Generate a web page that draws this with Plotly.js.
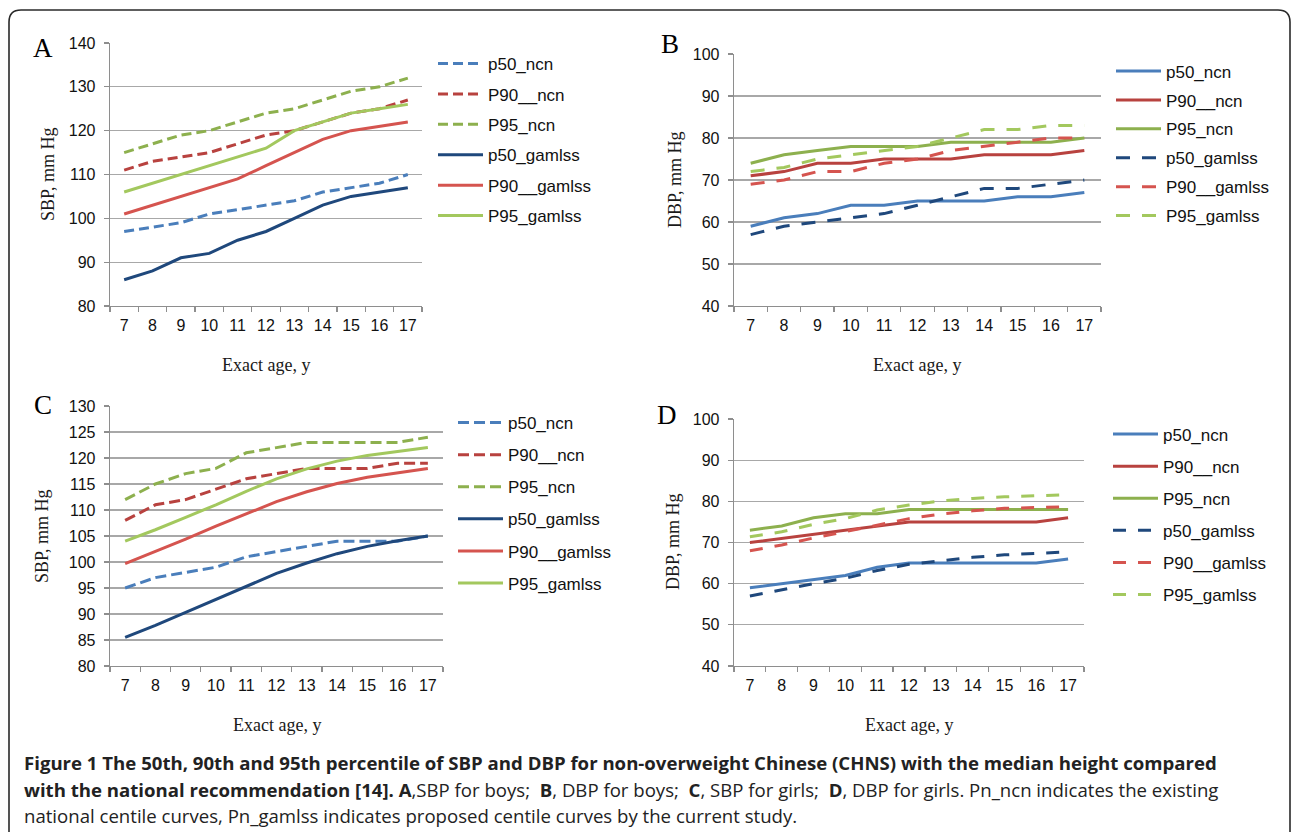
<!DOCTYPE html>
<html>
<head>
<meta charset="utf-8">
<script src="https://cdn.plot.ly/plotly-3.0.1.min.js"></script>
<style>
  html, body { margin: 0; padding: 0; background: #ffffff; }
  #chart { width: 1296px; height: 832px; }
</style>
</head>
<body>
<div id="chart"></div>
<script>
// ---------------- data ----------------
const ages = ['7','8','9','10','11','12','13','14','15','16','17'];

const seriesNames = ['p50_ncn', 'P90__ncn', 'P95_ncn', 'p50_gamlss', 'P90__gamlss', 'P95_gamlss'];

// Panel A: SBP for boys
const A_p50_ncn    = [97, 98, 99, 101, 102, 103, 104, 106, 107, 108, 110];
const A_p90_ncn    = [111, 113, 114, 115, 117, 119, 120, 122, 124, 125, 127];
const A_p95_ncn    = [115, 117, 119, 120, 122, 124, 125, 127, 129, 130, 132];
const A_p50_gamlss = [86, 88, 91, 92, 95, 97, 100, 103, 105, 106, 107];
const A_p90_gamlss = [101, 103, 105, 107, 109, 112, 115, 118, 120, 121, 122];
const A_p95_gamlss = [106, 108, 110, 112, 114, 116, 120, 122, 124, 125, 126];

// Panel B: DBP for boys
const B_p50_ncn    = [59, 61, 62, 64, 64, 65, 65, 65, 66, 66, 67];
const B_p90_ncn    = [71, 72, 74, 74, 75, 75, 75, 76, 76, 76, 77];
const B_p95_ncn    = [74, 76, 77, 78, 78, 78, 79, 79, 79, 79, 80];
const B_p50_gamlss = [57, 59, 60, 61, 62, 64, 66, 68, 68, 69, 70];
const B_p90_gamlss = [69, 70, 72, 72, 74, 75, 77, 78, 79, 80, 80];
const B_p95_gamlss = [72, 73, 75, 76, 77, 78, 80, 82, 82, 83, 83];

// Panel C: SBP for girls
const C_p50_ncn    = [95, 97, 98, 99, 101, 102, 103, 104, 104, 104, 105];
const C_p90_ncn    = [108, 111, 112, 114, 116, 117, 118, 118, 118, 119, 119];
const C_p95_ncn    = [112, 115, 117, 118, 121, 122, 123, 123, 123, 123, 124];
const C_p50_gamlss = [85.5, 87.8, 90.3, 92.8, 95.2, 97.8, 99.8, 101.6, 103.0, 104.1, 105];
const C_p90_gamlss = [99.7, 102, 104.4, 106.9, 109.3, 111.6, 113.5, 115.1, 116.3, 117.2, 118];
const C_p95_gamlss = [104, 106.2, 108.6, 111, 113.6, 116, 117.9, 119.4, 120.5, 121.2, 122];

// Panel D: DBP for girls
const D_p50_ncn    = [59, 60, 61, 62, 64, 65, 65, 65, 65, 65, 66];
const D_p90_ncn    = [70, 71, 72, 73, 74, 75, 75, 75, 75, 75, 76];
const D_p95_ncn    = [73, 74, 76, 77, 77, 78, 78, 78, 78, 78, 78];
const D_p50_gamlss = [57, 58.5, 60, 61.3, 63.2, 64.7, 65.5, 66.4, 67, 67.4, 67.7];
const D_p90_gamlss = [68, 69.4, 71.1, 72.6, 74.2, 75.8, 76.9, 77.7, 78.3, 78.5, 78.7];
const D_p95_gamlss = [71.4, 72.6, 74.4, 75.8, 77.9, 79.1, 80.1, 80.7, 81.1, 81.4, 81.6];

const panelLetters = ['A', 'B', 'C', 'D'];
const yTitles = ['SBP, mm Hg', 'DBP, mm Hg', 'SBP, mm Hg', 'DBP, mm Hg'];
const xTitle = 'Exact age, y';
const captionLines = [
  '<b>Figure 1 The 50th, 90th and 95th percentile of SBP and DBP for non-overweight Chinese (CHNS) with the median height compared</b>',
  '<b>with the national recommendation [14]. A</b>,SBP for boys;  <b>B</b>, DBP for boys;  <b>C</b>, SBP for girls;  <b>D</b>, DBP for girls. Pn_ncn indicates the existing',
  'national centile curves, Pn_gamlss indicates proposed centile curves by the current study.'
];

// ---------------- styling ----------------
const W = 1296, H = 832;
const px = v => v / W;
const py = v => 1 - v / H;

const colNcn    = ['#4a7ebb', '#b8423f', '#8db04e'];
const colGamlss = ['#1f487c', '#d5544f', '#a3c85e'];

const sansFont = 'Liberation Sans, Arial, Helvetica, sans-serif';
const serifFont = 'Liberation Serif, Times New Roman, serif';
const gridCol = '#a8a8a8';
const axisCol = '#8e8e8e';

// panel geometry (pixels): plot area
const panels = [
  {x0: 110, x1: 422, y0: 43,  y1: 306, yr: [80, 140], dt: 10, ncnDash: true,  dash: '10px,5px',
   data: [A_p50_ncn, A_p90_ncn, A_p95_ncn, A_p50_gamlss, A_p90_gamlss, A_p95_gamlss],
   leg: {x: 433, y: 46, gap: 5.3}, letter: [43, 48], ytitle: [48, 174]},
  {x0: 734, x1: 1101, y0: 54, y1: 306, yr: [40, 100], dt: 10, ncnDash: false, dash: '14px,12px',
   data: [B_p50_ncn, B_p90_ncn, B_p95_ncn, B_p50_gamlss, B_p90_gamlss, B_p95_gamlss],
   leg: {x: 1111, y: 53.5, gap: 3.8}, letter: [670, 44], ytitle: [675, 180]},
  {x0: 110, x1: 443, y0: 406, y1: 666, yr: [80, 130], dt: 5, ncnDash: true, dash: '11px,5px',
   data: [C_p50_ncn, C_p90_ncn, C_p95_ncn, C_p50_gamlss, C_p90_gamlss, C_p95_gamlss],
   leg: {x: 453, y: 405, gap: 7}, letter: [43, 405], ytitle: [42, 536]},
  {x0: 734, x1: 1084, y0: 419, y1: 666, yr: [40, 100], dt: 10, ncnDash: false, dash: '13px,12px',
   data: [D_p50_ncn, D_p90_ncn, D_p95_ncn, D_p50_gamlss, D_p90_gamlss, D_p95_gamlss],
   leg: {x: 1108, y: 416.5, gap: 7}, letter: [667, 415], ytitle: [673, 542]}
];

const traces = [];
const layout = {
  width: W, height: H,
  margin: {l: 0, r: 0, t: 0, b: 0},
  paper_bgcolor: '#ffffff',
  plot_bgcolor: 'rgba(0,0,0,0)',
  font: {family: sansFont, size: 16, color: '#1a1a1a'},
  annotations: [],
  shapes: []
};

panels.forEach((p, i) => {
  const k = i === 0 ? '' : String(i + 1);
  const xa = 'x' + k, ya = 'y' + k;
  const legName = i === 0 ? 'legend' : 'legend' + (i + 1);

  p.data.forEach((vals, j) => {
    const isNcn = j < 3;
    const dashed = isNcn ? p.ncnDash : !p.ncnDash;
    traces.push({
      type: 'scatter', mode: 'lines',
      x: ages, y: vals,
      name: seriesNames[j],
      xaxis: xa, yaxis: ya,
      legend: legName,
      legendgroup: 'g' + i + '_' + j,
      line: {color: isNcn ? colNcn[j] : colGamlss[j - 3], width: 3, dash: dashed ? p.dash : 'solid'},
      hoverinfo: 'skip'
    });
  });

  layout['xaxis' + k] = {
    domain: [px(p.x0), px(p.x1)], anchor: ya,
    type: 'category', tickson: 'boundaries',
    range: [-0.5, ages.length - 0.5],
    ticks: 'outside', ticklen: 5, tickcolor: axisCol, tickwidth: 1.2,
    showline: true, linecolor: axisCol, linewidth: 1.3,
    showgrid: false, zeroline: false, fixedrange: true,
    tickfont: {family: sansFont, size: 16, color: '#111'},
    ticklabelstandoff: 4
  };
  layout['yaxis' + k] = {
    domain: [py(p.y1), py(p.y0)], anchor: xa,
    range: p.yr, dtick: p.dt, tick0: 0,
    ticks: 'outside', ticklen: 5, tickcolor: axisCol, tickwidth: 1.2,
    showline: true, linecolor: axisCol, linewidth: 1.3,
    showgrid: true, gridcolor: gridCol, gridwidth: 1.3,
    zeroline: false, fixedrange: true,
    tickfont: {family: sansFont, size: 16, color: '#111'},
    ticklabelstandoff: 5
  };

  layout[legName] = {
    x: px(p.leg.x), xanchor: 'left',
    y: py(p.leg.y), yanchor: 'top',
    bgcolor: 'rgba(0,0,0,0)', borderwidth: 0,
    font: {family: sansFont, size: 17, color: '#111'},
    itemwidth: 45, tracegroupgap: p.leg.gap,
    traceorder: 'grouped'
  };

  // panel letter
  layout.annotations.push({
    text: panelLetters[i], xref: 'paper', yref: 'paper',
    x: px(p.letter[0]), y: py(p.letter[1]), xanchor: 'center', yanchor: 'middle',
    showarrow: false, font: {family: serifFont, size: 27, color: '#000'}
  });
  // y-axis title
  layout.annotations.push({
    text: yTitles[i], xref: 'paper', yref: 'paper', textangle: -90,
    x: px(p.ytitle[0]), y: py(p.ytitle[1]), xanchor: 'center', yanchor: 'middle',
    showarrow: false, font: {family: serifFont, size: 18, color: '#1a1a1a'}
  });
  // x-axis title
  layout.annotations.push({
    text: xTitle, xref: 'paper', yref: 'paper',
    x: px((p.x0 + p.x1) / 2), y: py(p.y1 + 59), xanchor: 'center', yanchor: 'middle',
    showarrow: false, font: {family: serifFont, size: 18, color: '#1a1a1a'}
  });
});

// caption
const capY = [762, 789, 815];
captionLines.forEach((t, i) => {
  layout.annotations.push({
    text: t, xref: 'paper', yref: 'paper',
    x: px(22), y: py(capY[i]), xanchor: 'left', yanchor: 'middle', align: 'left',
    showarrow: false, font: {family: 'Open Sans, Noto Sans, sans-serif', size: 18.6, color: '#222'}
  });
});

// rounded frame (extends below the bottom edge)
(function () {
  const l = 9, r = 1290, t = 10, b = 850, rad = 12;
  const X = v => px(v), Y = v => py(v);
  const d = 'M ' + X(l) + ',' + Y(b) +
    ' L ' + X(l) + ',' + Y(t + rad) +
    ' Q ' + X(l) + ',' + Y(t) + ' ' + X(l + rad) + ',' + Y(t) +
    ' L ' + X(r - rad) + ',' + Y(t) +
    ' Q ' + X(r) + ',' + Y(t) + ' ' + X(r) + ',' + Y(t + rad) +
    ' L ' + X(r) + ',' + Y(b);
  layout.shapes.push({type: 'path', xref: 'paper', yref: 'paper', path: d,
    line: {color: '#2a2a2a', width: 1.6}});
})();

Plotly.newPlot('chart', traces, layout, {displayModeBar: false, staticPlot: true});
</script>
</body>
</html>
